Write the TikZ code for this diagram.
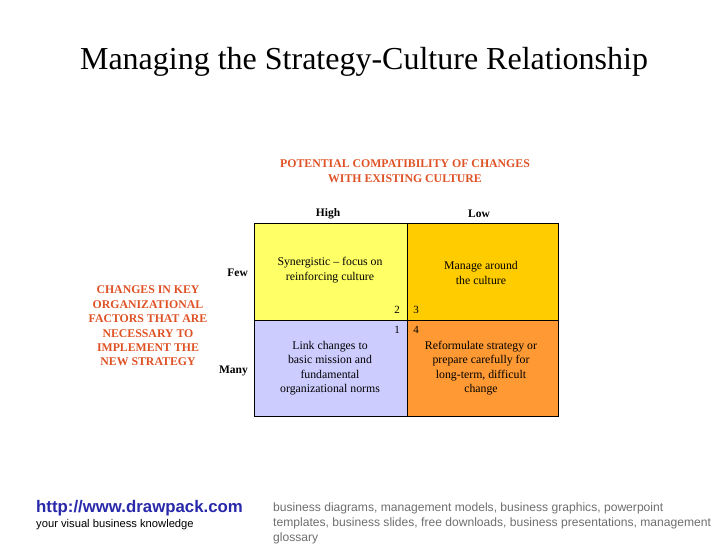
\documentclass[tikz,border=0pt]{standalone}
\usepackage{fontspec}
\setmainfont{Liberation Serif}
\setsansfont{Liberation Sans}
\definecolor{hdred}{RGB}{222,82,38}
\definecolor{cellA}{RGB}{255,255,102}
\definecolor{cellB}{RGB}{255,204,0}
\definecolor{cellC}{RGB}{204,204,255}
\definecolor{cellD}{RGB}{255,153,51}
\definecolor{linkblue}{RGB}{40,40,170}
\definecolor{footgray}{RGB}{110,110,110}
\begin{document}
\begin{tikzpicture}[x=1pt,y=-1pt,
  cell/.style={draw=black,line width=0.8pt},
  celltxt/.style={font=\fontsize{11.8}{14.5}\selectfont,align=center,inner sep=0pt},
  hdr/.style={font=\bfseries\fontsize{11.8}{14.4}\selectfont,text=hdred,align=center,inner sep=0pt},
  axl/.style={font=\bfseries\fontsize{11.5}{12}\selectfont,inner sep=0pt},
  num/.style={font=\fontsize{11}{12}\selectfont,inner sep=0pt}]
\useasboundingbox (0,0) rectangle (728,546);
\node[font=\fontsize{32}{36}\selectfont,inner sep=0pt] (title) at (364,62) {Managing the Strategy-Culture Relationship};
\node[hdr] (top) at (405,171) {POTENTIAL COMPATIBILITY OF CHANGES\\WITH EXISTING CULTURE};
\node[hdr] (left) at (148,326) {CHANGES IN KEY\\ORGANIZATIONAL\\FACTORS THAT ARE\\NECESSARY TO\\IMPLEMENT THE\\NEW STRATEGY};
\node[axl] (high) at (328,214) {High};
\node[axl] (low) at (479,214) {Low};
\node[axl,anchor=east] (few) at (248,273) {Few};
\node[axl,anchor=east] (many) at (248,371) {Many};
\fill[cellA] (254,223) rectangle (407,320);
\fill[cellB] (407,223) rectangle (558,320);
\fill[cellC] (254,320) rectangle (407,416);
\fill[cellD] (407,320) rectangle (558,416);
\draw[cell] (254,223) rectangle (558,416);
\draw[cell] (407,223) -- (407,416);
\draw[cell] (254,320) -- (558,320);
\node[celltxt] (c1) at (330,270) {Synergistic -- focus on\\reinforcing culture};
\node[celltxt] (c2) at (481,273) {Manage around\\the culture};
\node[celltxt] (c3) at (330,368) {Link changes to\\basic mission and\\fundamental\\organizational norms};
\node[celltxt] (c4) at (481,368) {Reformulate strategy or\\prepare carefully for\\long-term, difficult\\change};
\node[num] (n2) at (397,310) {2};
\node[num] (n3) at (416,310) {3};
\node[num] (n1) at (397,330) {1};
\node[num] (n4) at (416,330) {4};
\node[font=\sffamily\bfseries\fontsize{16.8}{18}\selectfont,text=linkblue,anchor=west,inner sep=0pt] (url) at (36,508) {http://www.drawpack.com};
\node[font=\sffamily\fontsize{11.2}{12}\selectfont,anchor=west,inner sep=0pt] (tag) at (36,525) {your visual business knowledge};
\node[font=\sffamily\fontsize{12.1}{15}\selectfont,text=footgray,anchor=north west,align=left,inner sep=0pt] (foot) at (273,502.5) {business diagrams, management models, business graphics, powerpoint\\templates, business slides, free downloads, business presentations, management\\glossary};
\end{tikzpicture}
\end{document}
